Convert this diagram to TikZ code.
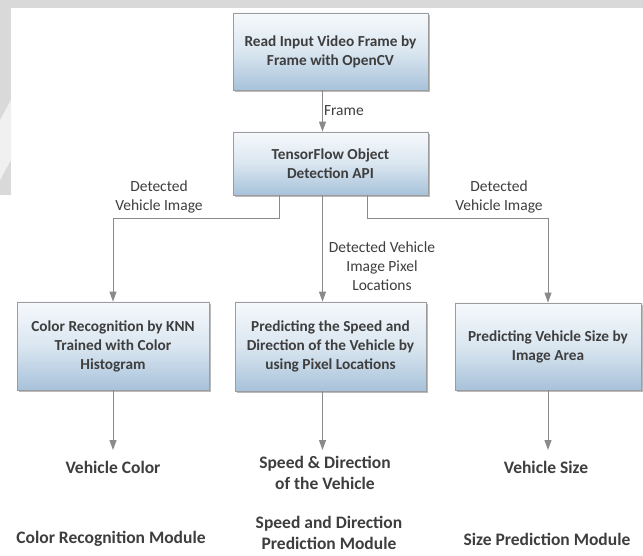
\documentclass[tikz,border=0pt]{standalone}
\usepackage{fontspec}
\setmainfont{Carlito}
\usetikzlibrary{arrows.meta,shadows}
\definecolor{txt}{HTML}{3E3E3E}
\definecolor{ln}{HTML}{8A8A8A}
\definecolor{bord}{HTML}{9C9C9C}
\definecolor{btop}{HTML}{F6F9FC}
\definecolor{bmid}{HTML}{DAE6F0}
\definecolor{bbot}{HTML}{A7C2DA}
\begin{document}
\begin{tikzpicture}[x=1pt,y=-1pt,
  procbox/.style={draw=bord, line width=0.8pt, top color=btop, bottom color=bbot, middle color=bmid,
    drop shadow={shadow xshift=1.5pt, shadow yshift=-2pt, fill=black!45, opacity=0.6},
    inner sep=0pt, align=center, text=txt, font=\fontsize{15.3}{19}\selectfont\bfseries},
  conn/.style={draw=ln, line width=1pt, -{Triangle[length=10pt,width=7pt]}},
  clabel/.style={text=txt, align=center, font=\fontsize{15.5}{19}\selectfont, inner sep=0pt},
  olabel/.style={text=txt, align=center, font=\fontsize{17.5}{21}\selectfont\bfseries, inner sep=0pt}]
\useasboundingbox (0,0) rectangle (643,556);
\fill[white] (0,0) rectangle (643,556);
% scanned page edges
\fill[black!15] (0,0) rectangle (643,8);
\fill[black!15] (0,0) rectangle (11,195);
\fill[black!6] (0,120) -- (11,100) -- (11,160) -- (0,180) -- cycle;

\node[procbox, minimum width=195pt, minimum height=77pt] (read) at (330.5,51.5)
  {Read Input Video Frame by\\Frame with OpenCV};
\node[procbox, minimum width=195pt, minimum height=63pt] (tf) at (330.5,163.5)
  {TensorFlow Object\\Detection API};
\node[procbox, minimum width=192pt, minimum height=88pt] (color) at (113,346)
  {Color Recognition by KNN\\Trained with Color\\Histogram};
\node[procbox, minimum width=191pt, minimum height=89pt] (speed) at (330.5,346.5)
  {Predicting the Speed and\\Direction of the Vehicle by\\using Pixel Locations};
\node[procbox, minimum width=186pt, minimum height=87pt] (size) at (548,346.5)
  {Predicting Vehicle Size by\\Image Area};

% connectors
\draw[conn] ([xshift=-8pt]read.south) -- ([xshift=-8pt]tf.north)
  node[clabel, anchor=west, pos=0.5, xshift=1pt] (frame) {Frame};
\coordinate (lturn) at (279,219);
\coordinate (rturn) at (367,219);
\draw[conn] (tf.south -| lturn) |- (lturn) -| (color.north);
\draw[conn] (tf.south -| rturn) |- (rturn) -| (size.north);
\draw[conn] ([xshift=-8pt]tf.south) -- ([xshift=-8pt]speed.north);

\node[clabel] (ldet) at (159,197) {Detected\\Vehicle Image};
\node[clabel] (rdet) at (499,197) {Detected\\Vehicle Image};
\node[clabel] (mdet) at (382,266) {Detected Vehicle\\Image Pixel\\Locations};

% outputs
\node[olabel] (vcolor) at (113,467) {Vehicle Color};
\node[olabel, anchor=north] (vspeed) at (325,456) {Speed \& Direction\\of the Vehicle};
\node[olabel] (vsize) at (546,467) {Vehicle Size};
\coordinate (ctip) at (113,450);
\coordinate (stip) at (322.5,450);
\coordinate (ztip) at (548,450);
\draw[conn] (color.south) -- (ctip);
\draw[conn] ([xshift=-8pt]speed.south) -- (stip);
\draw[conn] (size.south) -- (ztip);

\node[olabel] (mcolor) at (111,539) {Color Recognition Module};
\node[olabel, anchor=north] (mspeed) at (329,516) {Speed and Direction\\Prediction Module};
\node[olabel] (msize) at (547,539) {Size Prediction Module};
\end{tikzpicture}
\end{document}
